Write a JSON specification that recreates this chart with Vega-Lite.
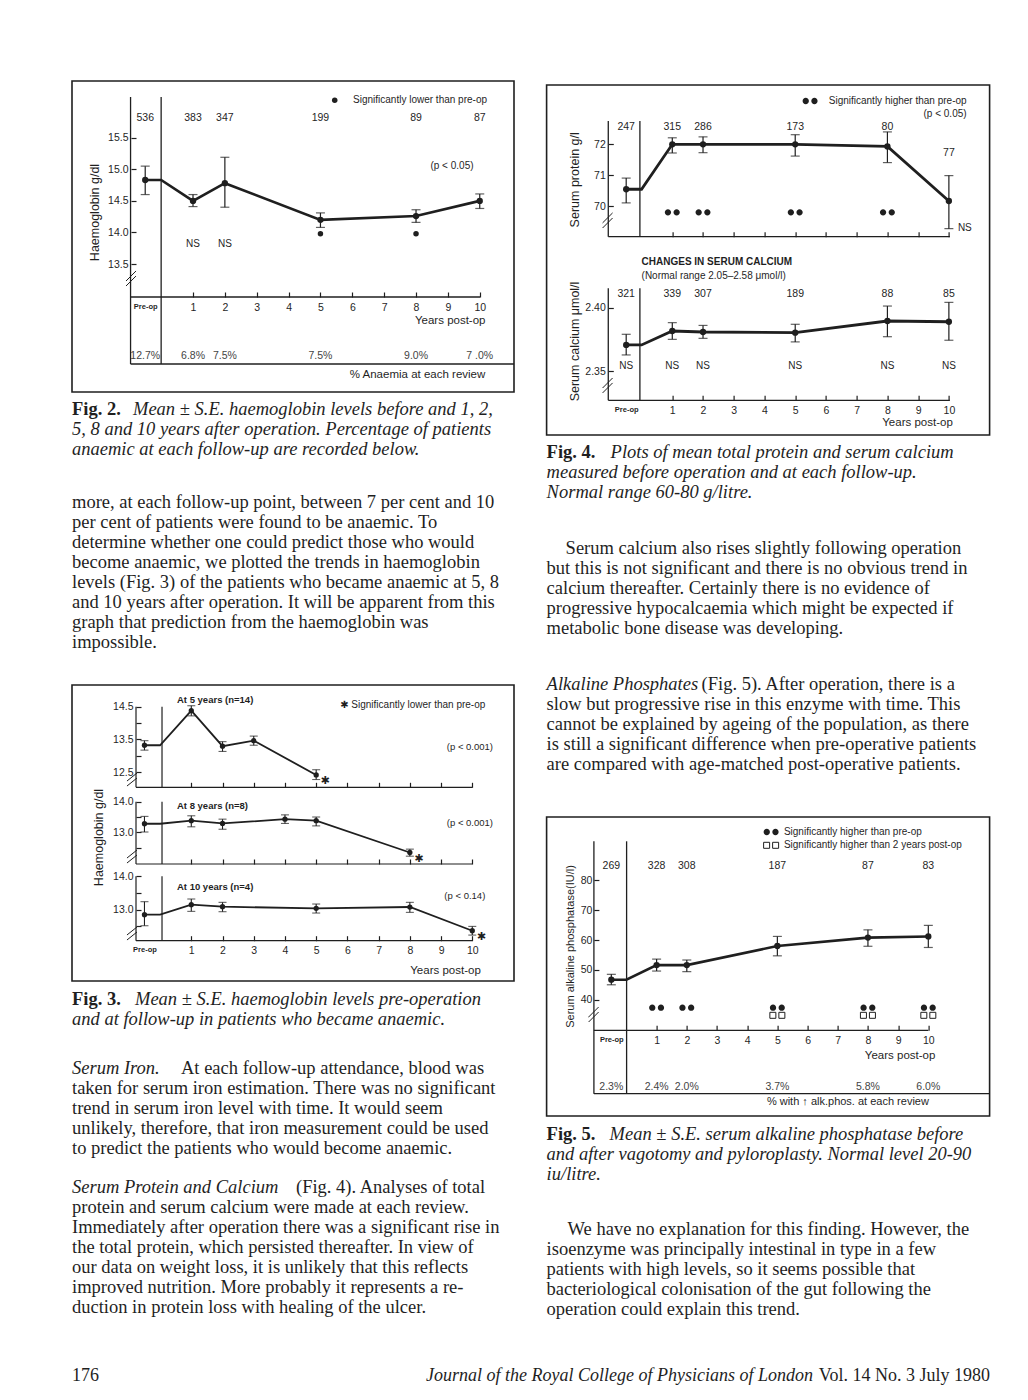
{
"$schema": "https://vega.github.io/schema/vega-lite/v6.json",
"background": "white",
"padding": {"left": 71, "top": 80, "right": 0, "bottom": 0},
"autosize": {"type": "pad"},
"spacing": 0,
"config": {
 "view": {"stroke": null},
 "axis": {"domain": false, "grid": false, "tickSize": -5, "tickWidth": 1.2, "tickColor": "#1f1f1f", "labelColor": "#1f1f1f", "labelFont": "Liberation Sans", "labelFontSize": 10.5, "labelPadding": 8, "labelFlush": false, "labelOverlap": false, "labelBound": false, "titleFont": "Liberation Sans", "titleFontWeight": "normal", "titleColor": "#1f1f1f", "titleFontSize": 12.5},
 "text": {"font": "Liberation Sans, DejaVu Sans", "color": "#1f1f1f"}
},
"vconcat": [
{"spacing": 29.6, "hconcat": [
{"spacing": 0, "bounds": "flush", "vconcat": [
 {
  "width": 442, "height": 311,
  "view": {"stroke": "#1f1f1f", "strokeWidth": 1.6},
  "resolve": {"axis": {"x": "independent", "y": "independent"}},
  "data": {"values": [
   {"year": -0.5, "kind": "visit", "mean": 14.83, "lo": 14.60, "hi": 15.05, "n": "536", "pct": "12.7%", "ns": false, "sig": false},
   {"year": 0, "kind": "join", "mean": 14.83},
   {"year": 1, "kind": "visit", "mean": 14.50, "lo": 14.41, "hi": 14.60, "n": "383", "pct": "6.8%", "ns": true, "sig": false},
   {"year": 2, "kind": "visit", "mean": 14.78, "lo": 14.40, "hi": 15.19, "n": "347", "pct": "7.5%", "ns": true, "sig": false},
   {"year": 5, "kind": "visit", "mean": 14.20, "lo": 14.08, "hi": 14.31, "n": "199", "pct": "7.5%", "ns": false, "sig": true},
   {"year": 8, "kind": "visit", "mean": 14.26, "lo": 14.16, "hi": 14.36, "n": "89", "pct": "9.0%", "ns": false, "sig": true},
   {"year": 10, "kind": "visit", "mean": 14.50, "lo": 14.38, "hi": 14.61, "n": "87", "pct": "7 .0%", "ns": false, "sig": false}
  ]},
  "layer": [
   {"transform": [{"filter": "datum.kind == 'visit'"}], "mark": {"type": "point", "filled": true, "size": 40, "color": "#1f1f1f", "opacity": 1},
    "encoding": {
     "x": {"field": "year", "type": "quantitative", "scale": {"domain": [-2.798, 11.075], "nice": false, "zero": false},
       "axis": {"orient": "bottom", "offset": -95, "values": [-0.5, 1, 2, 3, 4, 5, 6, 7, 8, 9, 10], "format": "d", "labelExpr": "datum.value < 0 ? 'Pre-op' : datum.label", "labelFontWeight": {"condition": {"test": "datum.value < 0", "value": "bold"}, "value": "normal"}, "labelFontSize": {"condition": {"test": "datum.value < 0", "value": 7.5}, "value": 10.5}, "tickOpacity": {"condition": {"test": "datum.value < 0", "value": 0}, "value": 1}, "labelPadding": 10, "title": "Years post-op", "titleX": 413, "titleY": 23, "titleAlign": "right", "titleBaseline": "middle", "titleFontSize": 11.5}},
     "y": {"field": "mean", "type": "quantitative", "scale": {"domain": [11.476, 16.397], "nice": false, "zero": false},
       "axis": {"orient": "left", "offset": -59, "values": [13.5, 14, 14.5, 15, 15.5], "format": ".1f", "labelPadding": 8, "title": "Haemoglobin g/dl", "titleX": -37, "titleY": 131, "titleAngle": 270, "titleAlign": "center", "titleBaseline": "middle", "titleFontSize": 12.5}}
    }},
   {"transform": [{"filter": "datum.kind == 'visit'"}], "mark": {"type": "errorbar", "ticks": true, "size": 9, "thickness": 1.2, "color": "#1f1f1f"}, "encoding": {"x": {"field": "year", "type": "quantitative", "scale": {"domain": [-2.798, 11.075], "nice": false, "zero": false}, "axis": null}, "y": {"field": "lo", "type": "quantitative", "scale": {"domain": [11.476, 16.397], "nice": false, "zero": false}, "axis": null}, "y2": {"field": "hi"}}},
   {"mark": {"type": "line", "color": "#1f1f1f", "strokeWidth": 2.6}, "encoding": {"x": {"field": "year", "type": "quantitative", "scale": {"domain": [-2.798, 11.075], "nice": false, "zero": false}, "axis": null}, "y": {"field": "mean", "type": "quantitative", "scale": {"domain": [11.476, 16.397], "nice": false, "zero": false}, "axis": null}}},
   {"transform": [{"filter": "datum.kind == 'visit'"}], "mark": {"type": "text", "fontSize": 10.5}, "encoding": {"x": {"field": "year", "type": "quantitative", "scale": {"domain": [-2.798, 11.075], "nice": false, "zero": false}, "axis": null}, "y": {"datum": 15.81, "type": "quantitative", "scale": {"domain": [11.476, 16.397], "nice": false, "zero": false}, "axis": null}, "text": {"field": "n"}}},
   {"transform": [{"filter": "datum.ns == true"}], "mark": {"type": "text", "text": "NS", "fontSize": 10}, "encoding": {"x": {"field": "year", "type": "quantitative", "scale": {"domain": [-2.798, 11.075], "nice": false, "zero": false}, "axis": null}, "y": {"datum": 13.82, "type": "quantitative", "scale": {"domain": [11.476, 16.397], "nice": false, "zero": false}, "axis": null}}},
   {"transform": [{"filter": "datum.sig == true"}], "mark": {"type": "point", "filled": true, "size": 30, "color": "#1f1f1f", "opacity": 1}, "encoding": {"x": {"field": "year", "type": "quantitative", "scale": {"domain": [-2.798, 11.075], "nice": false, "zero": false}, "axis": null}, "y": {"datum": 13.98, "type": "quantitative", "scale": {"domain": [11.476, 16.397], "nice": false, "zero": false}, "axis": null}}},
   {"transform": [{"filter": "datum.kind == 'visit'"}], "mark": {"type": "text", "fontSize": 10.5, "color": "#444444"}, "encoding": {"x": {"field": "year", "type": "quantitative", "scale": {"domain": [-2.798, 11.075], "nice": false, "zero": false}, "axis": null}, "y": {"datum": 12.04, "type": "quantitative", "scale": {"domain": [11.476, 16.397], "nice": false, "zero": false}, "axis": null}, "text": {"field": "pct"}}},
   {"data": {"values": [{}]}, "mark": {"type": "point", "filled": true, "size": 30, "color": "#1f1f1f", "opacity": 1}, "encoding": {"x": {"datum": 5.448, "type": "quantitative", "scale": {"domain": [-2.798, 11.075], "nice": false, "zero": false}, "axis": null}, "y": {"datum": 16.092, "type": "quantitative", "scale": {"domain": [11.476, 16.397], "nice": false, "zero": false}, "axis": null}}},
   {"data": {"values": [{}]}, "mark": {"type": "text", "text": "Significantly lower than pre-op", "align": "right", "fontSize": 10}, "encoding": {"x": {"datum": 10.228, "type": "quantitative", "scale": {"domain": [-2.798, 11.075], "nice": false, "zero": false}, "axis": null}, "y": {"datum": 16.092, "type": "quantitative", "scale": {"domain": [11.476, 16.397], "nice": false, "zero": false}, "axis": null}}},
   {"data": {"values": [{}]}, "mark": {"type": "text", "text": "(p < 0.05)", "align": "center", "fontSize": 10}, "encoding": {"x": {"datum": 9.129, "type": "quantitative", "scale": {"domain": [-2.798, 11.075], "nice": false, "zero": false}, "axis": null}, "y": {"datum": 15.047, "type": "quantitative", "scale": {"domain": [11.476, 16.397], "nice": false, "zero": false}, "axis": null}}},
   {"data": {"values": [{}]}, "mark": {"type": "text", "text": "% Anaemia at each review", "align": "right", "fontSize": 11.5}, "encoding": {"x": {"datum": 10.174, "type": "quantitative", "scale": {"domain": [-2.798, 11.075], "nice": false, "zero": false}, "axis": null}, "y": {"datum": 11.741, "type": "quantitative", "scale": {"domain": [11.476, 16.397], "nice": false, "zero": false}, "axis": null}}},
   {"data": {"values": [{}]}, "mark": {"type": "rule", "color": "#1f1f1f", "strokeWidth": 1.3}, "encoding": {"x": {"datum": -0.96, "type": "quantitative", "scale": {"domain": [-2.798, 11.075], "nice": false, "zero": false}, "axis": null}, "y": {"datum": 16.144, "type": "quantitative", "scale": {"domain": [11.476, 16.397], "nice": false, "zero": false}, "axis": null}, "y2": {"datum": 11.919}}},
   {"data": {"values": [{}]}, "mark": {"type": "rule", "color": "#1f1f1f", "strokeWidth": 1.3}, "encoding": {"x": {"datum": 0, "type": "quantitative", "scale": {"domain": [-2.798, 11.075], "nice": false, "zero": false}, "axis": null}, "y": {"datum": 16.144, "type": "quantitative", "scale": {"domain": [11.476, 16.397], "nice": false, "zero": false}, "axis": null}, "y2": {"datum": 11.919}}},
   {"data": {"values": [{}]}, "mark": {"type": "rule", "color": "#1f1f1f", "strokeWidth": 1.3}, "encoding": {"x": {"datum": -0.96, "type": "quantitative", "scale": {"domain": [-2.798, 11.075], "nice": false, "zero": false}, "axis": null}, "x2": {"datum": 10.01}, "y": {"datum": 12.979, "type": "quantitative", "scale": {"domain": [11.476, 16.397], "nice": false, "zero": false}, "axis": null}}},
   {"data": {"values": [{}]}, "mark": {"type": "rule", "color": "#1f1f1f", "strokeWidth": 1.3}, "encoding": {"x": {"datum": -0.96, "type": "quantitative", "scale": {"domain": [-2.798, 11.075], "nice": false, "zero": false}, "axis": null}, "x2": {"datum": 11.075}, "y": {"datum": 11.919, "type": "quantitative", "scale": {"domain": [11.476, 16.397], "nice": false, "zero": false}, "axis": null}}},
   {"data": {"values": [{}]}, "mark": {"type": "rule", "color": "#1f1f1f", "strokeWidth": 1}, "encoding": {"x": {"datum": -1.103, "type": "quantitative", "scale": {"domain": [-2.798, 11.075], "nice": false, "zero": false}, "axis": null}, "x2": {"datum": -0.789}, "y": {"datum": 13.153, "type": "quantitative", "scale": {"domain": [11.476, 16.397], "nice": false, "zero": false}, "axis": null}, "y2": {"datum": 13.311}}},
   {"data": {"values": [{}]}, "mark": {"type": "rule", "color": "#1f1f1f", "strokeWidth": 1}, "encoding": {"x": {"datum": -1.103, "type": "quantitative", "scale": {"domain": [-2.798, 11.075], "nice": false, "zero": false}, "axis": null}, "x2": {"datum": -0.789}, "y": {"datum": 13.232, "type": "quantitative", "scale": {"domain": [11.476, 16.397], "nice": false, "zero": false}, "axis": null}, "y2": {"datum": 13.391}}}
  ]
 },
 {
  "width": 442, "height": 74,
  "data": {"values": [
   {"line": 0, "part": "lead", "text": "Fig. 2."},
   {"line": 0, "part": "rest", "text": "Mean ± S.E. haemoglobin levels before and 1, 2,"},
   {"line": 1, "part": "body", "text": "5, 8 and 10 years after operation. Percentage of patients"},
   {"line": 2, "part": "body", "text": "anaemic at each follow-up are recorded below."}
  ]},
  "encoding": {"x": {"datum": 0, "type": "quantitative", "scale": {"domain": [0, 1], "nice": false, "zero": false}, "axis": null}, "y": {"field": "line", "type": "quantitative", "scale": {"domain": [-0.865, 2.835], "reverse": true, "nice": false, "zero": false}, "axis": null}, "text": {"field": "text"}},
  "layer": [
   {"transform": [{"filter": "datum.part == 'lead'"}], "mark": {"type": "text", "align": "left", "baseline": "middle", "font": "Liberation Serif", "fontSize": 18.5, "fontWeight": "bold", "color": "#1f1f1f"}},
   {"transform": [{"filter": "datum.part == 'rest'"}], "mark": {"type": "text", "align": "left", "baseline": "middle", "font": "Liberation Serif", "fontSize": 18.5, "fontStyle": "italic", "dx": 61, "color": "#1f1f1f"}},
   {"transform": [{"filter": "datum.part == 'body'"}], "mark": {"type": "text", "align": "left", "baseline": "middle", "font": "Liberation Serif", "fontSize": 18.5, "fontStyle": "italic", "color": "#1f1f1f"}}
  ]
 },
 {
  "width": 442, "height": 219,
  "data": {"values": [
   {"line": 0, "text": "more, at each follow-up point, between 7 per cent and 10"},
   {"line": 1, "text": "per cent of patients were found to be anaemic. To"},
   {"line": 2, "text": "determine whether one could predict those who would"},
   {"line": 3, "text": "become anaemic, we plotted the trends in haemoglobin"},
   {"line": 4, "text": "levels (Fig. 3) of the patients who became anaemic at 5, 8"},
   {"line": 5, "text": "and 10 years after operation. It will be apparent from this"},
   {"line": 6, "text": "graph that prediction from the haemoglobin was"},
   {"line": 7, "text": "impossible."}
  ]},
  "mark": {"type": "text", "align": "left", "baseline": "middle", "font": "Liberation Serif", "fontSize": 18.5, "color": "#1f1f1f"},
  "encoding": {"x": {"datum": 0, "type": "quantitative", "scale": {"domain": [0, 1], "nice": false, "zero": false}, "axis": null}, "y": {"field": "line", "type": "quantitative", "scale": {"domain": [-1.8, 9.15], "reverse": true, "nice": false, "zero": false}, "axis": null}, "text": {"field": "text"}}
 },
 {
  "width": 442, "height": 296,
  "view": {"stroke": "#1f1f1f", "strokeWidth": 1.6},
  "resolve": {"scale": {"y": "independent"}, "axis": {"x": "independent", "y": "independent"}},
  "layer": [
   {
    "resolve": {"axis": {"x": "independent", "y": "independent"}},
    "data": {"values": [
     {"year": -0.5, "kind": "visit", "mean": 13.32, "lo": 13.17, "hi": 13.46, "sig": false},
     {"year": 0, "kind": "join", "mean": 13.32},
     {"year": 1, "kind": "visit", "mean": 14.38, "lo": 14.22, "hi": 14.53, "sig": false},
     {"year": 2, "kind": "visit", "mean": 13.29, "lo": 13.13, "hi": 13.43, "sig": false},
     {"year": 3, "kind": "visit", "mean": 13.46, "lo": 13.32, "hi": 13.60, "sig": false},
     {"year": 5, "kind": "visit", "mean": 12.41, "lo": 12.27, "hi": 12.57, "sig": true}
    ]},
    "layer": [
     {"transform": [{"filter": "datum.kind == 'visit'"}], "mark": {"type": "point", "filled": true, "size": 28, "color": "#1f1f1f", "opacity": 1},
      "encoding": {
       "x": {"field": "year", "type": "quantitative", "scale": {"domain": [-2.821, 11.336], "nice": false, "zero": false}, "axis": {"orient": "bottom", "offset": -193.7, "values": [1, 2, 3, 4, 5, 6, 7, 8, 9, 10], "labels": false, "title": null}},
       "y": {"field": "mean", "type": "quantitative", "scale": {"domain": [6.099, 15.165], "nice": false, "zero": false}, "axis": {"orient": "left", "offset": -64, "values": [12.5, 13, 13.5, 14, 14.5], "labelExpr": "(datum.value * 2) % 2 == 1 ? format(datum.value, '.1f') : ''", "labelPadding": 8, "title": null}}
      }},
     {"transform": [{"filter": "datum.kind == 'visit'"}], "mark": {"type": "errorbar", "ticks": true, "size": 8, "thickness": 1.1, "color": "#1f1f1f"}, "encoding": {"x": {"field": "year", "type": "quantitative", "scale": {"domain": [-2.821, 11.336], "nice": false, "zero": false}, "axis": null}, "y": {"field": "lo", "type": "quantitative", "scale": {"domain": [6.099, 15.165], "nice": false, "zero": false}, "axis": null}, "y2": {"field": "hi"}}},
     {"mark": {"type": "line", "color": "#1f1f1f", "strokeWidth": 1.8}, "encoding": {"x": {"field": "year", "type": "quantitative", "scale": {"domain": [-2.821, 11.336], "nice": false, "zero": false}, "axis": null}, "y": {"field": "mean", "type": "quantitative", "scale": {"domain": [6.099, 15.165], "nice": false, "zero": false}, "axis": null}}},
     {"transform": [{"filter": "datum.sig == true"}], "mark": {"type": "text", "text": "✱", "font": "DejaVu Sans", "fontSize": 11, "dx": 9, "dy": 6}, "encoding": {"x": {"field": "year", "type": "quantitative", "scale": {"domain": [-2.821, 11.336], "nice": false, "zero": false}, "axis": null}, "y": {"field": "mean", "type": "quantitative", "scale": {"domain": [6.099, 15.165], "nice": false, "zero": false}, "axis": null}}},
     {"data": {"values": [{}]}, "mark": {"type": "text", "text": "At 5 years (n=14)", "align": "left", "fontSize": 9.5, "fontWeight": "bold"}, "encoding": {"x": {"datum": 0.542, "type": "quantitative", "scale": {"domain": [-2.821, 11.336], "nice": false, "zero": false}, "axis": null}, "y": {"datum": 14.714, "type": "quantitative", "scale": {"domain": [6.099, 15.165], "nice": false, "zero": false}, "axis": null}}},
     {"data": {"values": [{}]}, "mark": {"type": "text", "text": "✱ Significantly lower than pre-op", "align": "right", "fontSize": 10}, "encoding": {"x": {"datum": 10.417, "type": "quantitative", "scale": {"domain": [-2.821, 11.336], "nice": false, "zero": false}, "axis": null}, "y": {"datum": 14.552, "type": "quantitative", "scale": {"domain": [6.099, 15.165], "nice": false, "zero": false}, "axis": null}}},
     {"data": {"values": [{}]}, "mark": {"type": "text", "text": "(p < 0.001)", "align": "right", "fontSize": 9.5}, "encoding": {"x": {"datum": 10.664, "type": "quantitative", "scale": {"domain": [-2.821, 11.336], "nice": false, "zero": false}, "axis": null}, "y": {"datum": 13.275, "type": "quantitative", "scale": {"domain": [6.099, 15.165], "nice": false, "zero": false}, "axis": null}}},
     {"data": {"values": [{}]}, "mark": {"type": "rule", "color": "#1f1f1f", "strokeWidth": 1.2}, "encoding": {"x": {"datum": -0.771, "type": "quantitative", "scale": {"domain": [-2.821, 11.336], "nice": false, "zero": false}, "axis": null}, "y": {"datum": 14.5, "type": "quantitative", "scale": {"domain": [6.099, 15.165], "nice": false, "zero": false}, "axis": null}, "y2": {"datum": 12.031}}},
     {"data": {"values": [{}]}, "mark": {"type": "rule", "color": "#1f1f1f", "strokeWidth": 1.2}, "encoding": {"x": {"datum": 0.062, "type": "quantitative", "scale": {"domain": [-2.821, 11.336], "nice": false, "zero": false}, "axis": null}, "y": {"datum": 14.5, "type": "quantitative", "scale": {"domain": [6.099, 15.165], "nice": false, "zero": false}, "axis": null}, "y2": {"datum": 12.031}}},
     {"data": {"values": [{}]}, "mark": {"type": "rule", "color": "#1f1f1f", "strokeWidth": 1.2}, "encoding": {"x": {"datum": -0.771, "type": "quantitative", "scale": {"domain": [-2.821, 11.336], "nice": false, "zero": false}, "axis": null}, "x2": {"datum": 10.0}, "y": {"datum": 12.031, "type": "quantitative", "scale": {"domain": [6.099, 15.165], "nice": false, "zero": false}, "axis": null}}},
     {"data": {"values": [{}]}, "mark": {"type": "rule", "color": "#1f1f1f", "strokeWidth": 1}, "encoding": {"x": {"datum": -1.06, "type": "quantitative", "scale": {"domain": [-2.821, 11.336], "nice": false, "zero": false}, "axis": null}, "x2": {"datum": -0.739}, "y": {"datum": 12.071, "type": "quantitative", "scale": {"domain": [6.099, 15.165], "nice": false, "zero": false}, "axis": null}, "y2": {"datum": 12.316}}},
     {"data": {"values": [{}]}, "mark": {"type": "rule", "color": "#1f1f1f", "strokeWidth": 1}, "encoding": {"x": {"datum": -1.06, "type": "quantitative", "scale": {"domain": [-2.821, 11.336], "nice": false, "zero": false}, "axis": null}, "x2": {"datum": -0.739}, "y": {"datum": 12.224, "type": "quantitative", "scale": {"domain": [6.099, 15.165], "nice": false, "zero": false}, "axis": null}, "y2": {"datum": 12.469}}}
    ]
   },
   {
    "resolve": {"axis": {"x": "independent", "y": "independent"}},
    "data": {"values": [
     {"year": -0.5, "kind": "visit", "mean": 13.28, "lo": 13.01, "hi": 13.52, "sig": false},
     {"year": 0, "kind": "join", "mean": 13.28},
     {"year": 1, "kind": "visit", "mean": 13.38, "lo": 13.18, "hi": 13.54, "sig": false},
     {"year": 2, "kind": "visit", "mean": 13.29, "lo": 13.10, "hi": 13.43, "sig": false},
     {"year": 4, "kind": "visit", "mean": 13.43, "lo": 13.29, "hi": 13.57, "sig": false},
     {"year": 5, "kind": "visit", "mean": 13.38, "lo": 13.21, "hi": 13.50, "sig": false},
     {"year": 8, "kind": "visit", "mean": 12.34, "lo": 12.22, "hi": 12.45, "sig": true}
    ]},
    "layer": [
     {"transform": [{"filter": "datum.kind == 'visit'"}], "mark": {"type": "point", "filled": true, "size": 28, "color": "#1f1f1f", "opacity": 1},
      "encoding": {
       "x": {"field": "year", "type": "quantitative", "scale": {"domain": [-2.821, 11.336], "nice": false, "zero": false}, "axis": {"orient": "bottom", "offset": -117, "values": [1, 2, 3, 4, 5, 6, 7, 8, 9, 10], "labels": false, "title": null}},
       "y": {"field": "mean", "type": "quantitative", "scale": {"domain": [8.141, 17.814], "nice": false, "zero": false}, "axis": {"orient": "left", "offset": -64, "values": [12.5, 13, 13.5, 14], "labelExpr": "(datum.value * 2) % 2 == 0 ? format(datum.value, '.1f') : ''", "labelPadding": 8, "title": "Haemoglobin g/dl", "titleX": -37.3, "titleY": 152, "titleAngle": 270, "titleAlign": "center", "titleBaseline": "middle", "titleFontSize": 12.5}}
      }},
     {"transform": [{"filter": "datum.kind == 'visit'"}], "mark": {"type": "errorbar", "ticks": true, "size": 8, "thickness": 1.1, "color": "#1f1f1f"}, "encoding": {"x": {"field": "year", "type": "quantitative", "scale": {"domain": [-2.821, 11.336], "nice": false, "zero": false}, "axis": null}, "y": {"field": "lo", "type": "quantitative", "scale": {"domain": [8.141, 17.814], "nice": false, "zero": false}, "axis": null}, "y2": {"field": "hi"}}},
     {"mark": {"type": "line", "color": "#1f1f1f", "strokeWidth": 1.8}, "encoding": {"x": {"field": "year", "type": "quantitative", "scale": {"domain": [-2.821, 11.336], "nice": false, "zero": false}, "axis": null}, "y": {"field": "mean", "type": "quantitative", "scale": {"domain": [8.141, 17.814], "nice": false, "zero": false}, "axis": null}}},
     {"transform": [{"filter": "datum.sig == true"}], "mark": {"type": "text", "text": "✱", "font": "DejaVu Sans", "fontSize": 11, "dx": 9, "dy": 6}, "encoding": {"x": {"field": "year", "type": "quantitative", "scale": {"domain": [-2.821, 11.336], "nice": false, "zero": false}, "axis": null}, "y": {"field": "mean", "type": "quantitative", "scale": {"domain": [8.141, 17.814], "nice": false, "zero": false}, "axis": null}}},
     {"data": {"values": [{}]}, "mark": {"type": "text", "text": "At 8 years (n=8)", "align": "left", "fontSize": 9.5, "fontWeight": "bold"}, "encoding": {"x": {"datum": 0.542, "type": "quantitative", "scale": {"domain": [-2.821, 11.336], "nice": false, "zero": false}, "axis": null}, "y": {"datum": 13.869, "type": "quantitative", "scale": {"domain": [8.141, 17.814], "nice": false, "zero": false}, "axis": null}}},
     {"data": {"values": [{}]}, "mark": {"type": "text", "text": "(p < 0.001)", "align": "right", "fontSize": 9.5}, "encoding": {"x": {"datum": 10.664, "type": "quantitative", "scale": {"domain": [-2.821, 11.336], "nice": false, "zero": false}, "axis": null}, "y": {"datum": 13.294, "type": "quantitative", "scale": {"domain": [8.141, 17.814], "nice": false, "zero": false}, "axis": null}}},
     {"data": {"values": [{}]}, "mark": {"type": "rule", "color": "#1f1f1f", "strokeWidth": 1.2}, "encoding": {"x": {"datum": -0.771, "type": "quantitative", "scale": {"domain": [-2.821, 11.336], "nice": false, "zero": false}, "axis": null}, "y": {"datum": 14.0, "type": "quantitative", "scale": {"domain": [8.141, 17.814], "nice": false, "zero": false}, "axis": null}, "y2": {"datum": 11.964}}},
     {"data": {"values": [{}]}, "mark": {"type": "rule", "color": "#1f1f1f", "strokeWidth": 1.2}, "encoding": {"x": {"datum": 0.062, "type": "quantitative", "scale": {"domain": [-2.821, 11.336], "nice": false, "zero": false}, "axis": null}, "y": {"datum": 14.0, "type": "quantitative", "scale": {"domain": [8.141, 17.814], "nice": false, "zero": false}, "axis": null}, "y2": {"datum": 11.964}}},
     {"data": {"values": [{}]}, "mark": {"type": "rule", "color": "#1f1f1f", "strokeWidth": 1.2}, "encoding": {"x": {"datum": -0.771, "type": "quantitative", "scale": {"domain": [-2.821, 11.336], "nice": false, "zero": false}, "axis": null}, "x2": {"datum": 10.0}, "y": {"datum": 11.964, "type": "quantitative", "scale": {"domain": [8.141, 17.814], "nice": false, "zero": false}, "axis": null}}},
     {"data": {"values": [{}]}, "mark": {"type": "rule", "color": "#1f1f1f", "strokeWidth": 1}, "encoding": {"x": {"datum": -1.06, "type": "quantitative", "scale": {"domain": [-2.821, 11.336], "nice": false, "zero": false}, "axis": null}, "x2": {"datum": -0.739}, "y": {"datum": 11.997, "type": "quantitative", "scale": {"domain": [8.141, 17.814], "nice": false, "zero": false}, "axis": null}, "y2": {"datum": 12.258}}},
     {"data": {"values": [{}]}, "mark": {"type": "rule", "color": "#1f1f1f", "strokeWidth": 1}, "encoding": {"x": {"datum": -1.06, "type": "quantitative", "scale": {"domain": [-2.821, 11.336], "nice": false, "zero": false}, "axis": null}, "x2": {"datum": -0.739}, "y": {"datum": 12.16, "type": "quantitative", "scale": {"domain": [8.141, 17.814], "nice": false, "zero": false}, "axis": null}, "y2": {"datum": 12.422}}}
    ]
   },
   {
    "resolve": {"axis": {"x": "independent", "y": "independent"}},
    "data": {"values": [
     {"year": -0.5, "kind": "visit", "mean": 12.85, "lo": 12.52, "hi": 13.24, "sig": false},
     {"year": 0, "kind": "join", "mean": 12.85},
     {"year": 1, "kind": "visit", "mean": 13.15, "lo": 12.95, "hi": 13.32, "sig": false},
     {"year": 2, "kind": "visit", "mean": 13.09, "lo": 12.94, "hi": 13.22, "sig": false},
     {"year": 5, "kind": "visit", "mean": 13.04, "lo": 12.90, "hi": 13.17, "sig": false},
     {"year": 8, "kind": "visit", "mean": 13.08, "lo": 12.92, "hi": 13.22, "sig": false},
     {"year": 10, "kind": "visit", "mean": 12.37, "lo": 12.24, "hi": 12.50, "sig": true}
    ]},
    "layer": [
     {"transform": [{"filter": "datum.kind == 'visit'"}], "mark": {"type": "point", "filled": true, "size": 28, "color": "#1f1f1f", "opacity": 1},
      "encoding": {
       "x": {"field": "year", "type": "quantitative", "scale": {"domain": [-2.821, 11.336], "nice": false, "zero": false}, "axis": {"orient": "bottom", "offset": -40.3, "values": [-0.5, 1, 2, 3, 4, 5, 6, 7, 8, 9, 10], "format": "d", "labelExpr": "datum.value < 0 ? 'Pre-op' : datum.label", "labelFontWeight": {"condition": {"test": "datum.value < 0", "value": "bold"}, "value": "normal"}, "labelFontSize": {"condition": {"test": "datum.value < 0", "value": 7.5}, "value": 10.5}, "tickOpacity": {"condition": {"test": "datum.value < 0", "value": 0}, "value": 1}, "labelPadding": 10, "title": "Years post-op", "titleX": 408.3, "titleY": 30, "titleAlign": "right", "titleBaseline": "middle", "titleFontSize": 11.5}},
       "y": {"field": "mean", "type": "quantitative", "scale": {"domain": [10.865, 19.728], "nice": false, "zero": false}, "axis": {"orient": "left", "offset": -64, "values": [12.5, 13, 13.5, 14], "labelExpr": "(datum.value * 2) % 2 == 0 ? format(datum.value, '.1f') : ''", "labelPadding": 8, "title": null}}
      }},
     {"transform": [{"filter": "datum.kind == 'visit'"}], "mark": {"type": "errorbar", "ticks": true, "size": 8, "thickness": 1.1, "color": "#1f1f1f"}, "encoding": {"x": {"field": "year", "type": "quantitative", "scale": {"domain": [-2.821, 11.336], "nice": false, "zero": false}, "axis": null}, "y": {"field": "lo", "type": "quantitative", "scale": {"domain": [10.865, 19.728], "nice": false, "zero": false}, "axis": null}, "y2": {"field": "hi"}}},
     {"mark": {"type": "line", "color": "#1f1f1f", "strokeWidth": 1.8}, "encoding": {"x": {"field": "year", "type": "quantitative", "scale": {"domain": [-2.821, 11.336], "nice": false, "zero": false}, "axis": null}, "y": {"field": "mean", "type": "quantitative", "scale": {"domain": [10.865, 19.728], "nice": false, "zero": false}, "axis": null}}},
     {"transform": [{"filter": "datum.sig == true"}], "mark": {"type": "text", "text": "✱", "font": "DejaVu Sans", "fontSize": 11, "dx": 9, "dy": 6}, "encoding": {"x": {"field": "year", "type": "quantitative", "scale": {"domain": [-2.821, 11.336], "nice": false, "zero": false}, "axis": null}, "y": {"field": "mean", "type": "quantitative", "scale": {"domain": [10.865, 19.728], "nice": false, "zero": false}, "axis": null}}},
     {"data": {"values": [{}]}, "mark": {"type": "text", "text": "At 10 years (n=4)", "align": "left", "fontSize": 9.5, "fontWeight": "bold"}, "encoding": {"x": {"datum": 0.542, "type": "quantitative", "scale": {"domain": [-2.821, 11.336], "nice": false, "zero": false}, "axis": null}, "y": {"datum": 13.671, "type": "quantitative", "scale": {"domain": [10.865, 19.728], "nice": false, "zero": false}, "axis": null}}},
     {"data": {"values": [{}]}, "mark": {"type": "text", "text": "(p < 0.14)", "align": "right", "fontSize": 9.5}, "encoding": {"x": {"datum": 10.417, "type": "quantitative", "scale": {"domain": [-2.821, 11.336], "nice": false, "zero": false}, "axis": null}, "y": {"datum": 13.41, "type": "quantitative", "scale": {"domain": [10.865, 19.728], "nice": false, "zero": false}, "axis": null}}},
     {"data": {"values": [{}]}, "mark": {"type": "rule", "color": "#1f1f1f", "strokeWidth": 1.2}, "encoding": {"x": {"datum": -0.771, "type": "quantitative", "scale": {"domain": [-2.821, 11.336], "nice": false, "zero": false}, "axis": null}, "y": {"datum": 14.0, "type": "quantitative", "scale": {"domain": [10.865, 19.728], "nice": false, "zero": false}, "axis": null}, "y2": {"datum": 12.072}}},
     {"data": {"values": [{}]}, "mark": {"type": "rule", "color": "#1f1f1f", "strokeWidth": 1.2}, "encoding": {"x": {"datum": 0.062, "type": "quantitative", "scale": {"domain": [-2.821, 11.336], "nice": false, "zero": false}, "axis": null}, "y": {"datum": 14.0, "type": "quantitative", "scale": {"domain": [10.865, 19.728], "nice": false, "zero": false}, "axis": null}, "y2": {"datum": 12.072}}},
     {"data": {"values": [{}]}, "mark": {"type": "rule", "color": "#1f1f1f", "strokeWidth": 1.2}, "encoding": {"x": {"datum": -0.771, "type": "quantitative", "scale": {"domain": [-2.821, 11.336], "nice": false, "zero": false}, "axis": null}, "x2": {"datum": 10.0}, "y": {"datum": 12.072, "type": "quantitative", "scale": {"domain": [10.865, 19.728], "nice": false, "zero": false}, "axis": null}}},
     {"data": {"values": [{}]}, "mark": {"type": "rule", "color": "#1f1f1f", "strokeWidth": 1}, "encoding": {"x": {"datum": -1.06, "type": "quantitative", "scale": {"domain": [-2.821, 11.336], "nice": false, "zero": false}, "axis": null}, "x2": {"datum": -0.739}, "y": {"datum": 12.093, "type": "quantitative", "scale": {"domain": [10.865, 19.728], "nice": false, "zero": false}, "axis": null}, "y2": {"datum": 12.332}}},
     {"data": {"values": [{}]}, "mark": {"type": "rule", "color": "#1f1f1f", "strokeWidth": 1}, "encoding": {"x": {"datum": -1.06, "type": "quantitative", "scale": {"domain": [-2.821, 11.336], "nice": false, "zero": false}, "axis": null}, "x2": {"datum": -0.739}, "y": {"datum": 12.243, "type": "quantitative", "scale": {"domain": [10.865, 19.728], "nice": false, "zero": false}, "axis": null}, "y2": {"datum": 12.482}}}
    ]
   }
  ]
 },
 {
  "width": 442, "height": 60,
  "data": {"values": [
   {"line": 0, "part": "lead", "text": "Fig. 3."},
   {"line": 0, "part": "rest", "text": "Mean ± S.E. haemoglobin levels pre-operation"},
   {"line": 1, "part": "body", "text": "and at follow-up in patients who became anaemic."}
  ]},
  "encoding": {"x": {"datum": 0, "type": "quantitative", "scale": {"domain": [0, 1], "nice": false, "zero": false}, "axis": null}, "y": {"field": "line", "type": "quantitative", "scale": {"domain": [-0.915, 2.085], "reverse": true, "nice": false, "zero": false}, "axis": null}, "text": {"field": "text"}},
  "layer": [
   {"transform": [{"filter": "datum.part == 'lead'"}], "mark": {"type": "text", "align": "left", "baseline": "middle", "font": "Liberation Serif", "fontSize": 18.5, "fontWeight": "bold", "color": "#1f1f1f"}},
   {"transform": [{"filter": "datum.part == 'rest'"}], "mark": {"type": "text", "align": "left", "baseline": "middle", "font": "Liberation Serif", "fontSize": 18.5, "fontStyle": "italic", "dx": 63, "color": "#1f1f1f"}},
   {"transform": [{"filter": "datum.part == 'body'"}], "mark": {"type": "text", "align": "left", "baseline": "middle", "font": "Liberation Serif", "fontSize": 18.5, "fontStyle": "italic", "color": "#1f1f1f"}}
  ]
 },
 {
  "width": 442, "height": 125,
  "data": {"values": [
   {"line": 0, "part": "lead", "text": "Serum Iron."},
   {"line": 0, "part": "rest", "text": "At each follow-up attendance, blood was"},
   {"line": 1, "part": "body", "text": "taken for serum iron estimation. There was no significant"},
   {"line": 2, "part": "body", "text": "trend in serum iron level with time. It would seem"},
   {"line": 3, "part": "body", "text": "unlikely, therefore, that iron measurement could be used"},
   {"line": 4, "part": "body", "text": "to predict the patients who would become anaemic."}
  ]},
  "encoding": {"x": {"datum": 0, "type": "quantitative", "scale": {"domain": [0, 1], "nice": false, "zero": false}, "axis": null}, "y": {"field": "line", "type": "quantitative", "scale": {"domain": [-1.335, 4.915], "reverse": true, "nice": false, "zero": false}, "axis": null}, "text": {"field": "text"}},
  "layer": [
   {"transform": [{"filter": "datum.part == 'lead'"}], "mark": {"type": "text", "align": "left", "baseline": "middle", "font": "Liberation Serif", "fontSize": 18.5, "fontStyle": "italic", "color": "#1f1f1f"}},
   {"transform": [{"filter": "datum.part == 'rest'"}], "mark": {"type": "text", "align": "left", "baseline": "middle", "font": "Liberation Serif", "fontSize": 18.5, "dx": 109, "color": "#1f1f1f"}},
   {"transform": [{"filter": "datum.part == 'body'"}], "mark": {"type": "text", "align": "left", "baseline": "middle", "font": "Liberation Serif", "fontSize": 18.5, "color": "#1f1f1f"}}
  ]
 },
 {
  "width": 442, "height": 175,
  "data": {"values": [
   {"line": 0, "part": "lead", "text": "Serum Protein and Calcium"},
   {"line": 0, "part": "rest", "text": "(Fig. 4). Analyses of total"},
   {"line": 1, "part": "body", "text": "protein and serum calcium were made at each review."},
   {"line": 2, "part": "body", "text": "Immediately after operation there was a significant rise in"},
   {"line": 3, "part": "body", "text": "the total protein, which persisted thereafter. In view of"},
   {"line": 4, "part": "body", "text": "our data on weight loss, it is unlikely that this reflects"},
   {"line": 5, "part": "body", "text": "improved nutrition. More probably it represents a re-"},
   {"line": 6, "part": "body", "text": "duction in protein loss with healing of the ulcer."}
  ]},
  "encoding": {"x": {"datum": 0, "type": "quantitative", "scale": {"domain": [0, 1], "nice": false, "zero": false}, "axis": null}, "y": {"field": "line", "type": "quantitative", "scale": {"domain": [-1.05, 7.7], "reverse": true, "nice": false, "zero": false}, "axis": null}, "text": {"field": "text"}},
  "layer": [
   {"transform": [{"filter": "datum.part == 'lead'"}], "mark": {"type": "text", "align": "left", "baseline": "middle", "font": "Liberation Serif", "fontSize": 18.5, "fontStyle": "italic", "color": "#1f1f1f"}},
   {"transform": [{"filter": "datum.part == 'rest'"}], "mark": {"type": "text", "align": "left", "baseline": "middle", "font": "Liberation Serif", "fontSize": 18.5, "dx": 224, "color": "#1f1f1f"}},
   {"transform": [{"filter": "datum.part == 'body'"}], "mark": {"type": "text", "align": "left", "baseline": "middle", "font": "Liberation Serif", "fontSize": 18.5, "color": "#1f1f1f"}}
  ]
 }
]},
{"spacing": 0, "bounds": "flush", "vconcat": [
 {"width": 443, "height": 4, "data": {"values": []}, "mark": {"type": "text"}, "encoding": {"text": {"field": "text"}}},
 {
  "width": 443, "height": 350,
  "view": {"stroke": "#1f1f1f", "strokeWidth": 1.6},
  "resolve": {"scale": {"y": "independent"}, "axis": {"x": "independent", "y": "independent"}},
  "layer": [
   {
    "resolve": {"axis": {"x": "independent", "y": "independent"}},
    "data": {"values": [
     {"year": -0.5, "kind": "visit", "mean": 70.55, "lo": 70.11, "hi": 70.91, "n": "247", "ns": false, "sig": false},
     {"year": 0, "kind": "join", "mean": 70.55},
     {"year": 1, "kind": "visit", "mean": 72.0, "lo": 71.72, "hi": 72.21, "n": "315", "ns": false, "sig": true},
     {"year": 2, "kind": "visit", "mean": 72.0, "lo": 71.73, "hi": 72.24, "n": "286", "ns": false, "sig": true},
     {"year": 5, "kind": "visit", "mean": 72.0, "lo": 71.62, "hi": 72.31, "n": "173", "ns": false, "sig": true},
     {"year": 8, "kind": "visit", "mean": 71.93, "lo": 71.41, "hi": 72.40, "n": "80", "ns": false, "sig": true},
     {"year": 10, "kind": "visit", "mean": 70.17, "lo": 69.28, "hi": 70.99, "n": "77", "ns": true, "sig": false}
    ]},
    "layer": [
     {"transform": [{"filter": "datum.kind == 'visit'"}], "mark": {"type": "point", "filled": true, "size": 40, "color": "#1f1f1f", "opacity": 1},
      "encoding": {
       "x": {"field": "year", "type": "quantitative", "scale": {"domain": [-3.09, 11.325], "nice": false, "zero": false}, "axis": {"orient": "bottom", "offset": -198.3, "values": [1, 2, 3, 4, 5, 6, 7, 8, 9, 10], "labels": false, "title": null}},
       "y": {"field": "mean", "type": "quantitative", "scale": {"domain": [62.623, 73.913], "nice": false, "zero": false}, "axis": {"orient": "left", "offset": -61.7, "values": [70, 71, 72], "format": "d", "labelPadding": 8, "title": "Serum protein g/l", "titleX": -33.4, "titleY": 94.3, "titleAngle": 270, "titleAlign": "center", "titleBaseline": "middle", "titleFontSize": 12.5}}
      }},
     {"transform": [{"filter": "datum.kind == 'visit'"}], "mark": {"type": "errorbar", "ticks": true, "size": 9, "thickness": 1.2, "color": "#1f1f1f"}, "encoding": {"x": {"field": "year", "type": "quantitative", "scale": {"domain": [-3.09, 11.325], "nice": false, "zero": false}, "axis": null}, "y": {"field": "lo", "type": "quantitative", "scale": {"domain": [62.623, 73.913], "nice": false, "zero": false}, "axis": null}, "y2": {"field": "hi"}}},
     {"mark": {"type": "line", "color": "#1f1f1f", "strokeWidth": 2.8}, "encoding": {"x": {"field": "year", "type": "quantitative", "scale": {"domain": [-3.09, 11.325], "nice": false, "zero": false}, "axis": null}, "y": {"field": "mean", "type": "quantitative", "scale": {"domain": [62.623, 73.913], "nice": false, "zero": false}, "axis": null}}},
     {"transform": [{"filter": "datum.kind == 'visit' && datum.year < 10"}], "mark": {"type": "text", "fontSize": 10.5}, "encoding": {"x": {"field": "year", "type": "quantitative", "scale": {"domain": [-3.09, 11.325], "nice": false, "zero": false}, "axis": null}, "y": {"datum": 72.558, "type": "quantitative", "scale": {"domain": [62.623, 73.913], "nice": false, "zero": false}, "axis": null}, "text": {"field": "n"}}},
     {"transform": [{"filter": "datum.kind == 'visit' && datum.year == 10"}], "mark": {"type": "text", "fontSize": 10.5}, "encoding": {"x": {"field": "year", "type": "quantitative", "scale": {"domain": [-3.09, 11.325], "nice": false, "zero": false}, "axis": null}, "y": {"datum": 71.729, "type": "quantitative", "scale": {"domain": [62.623, 73.913], "nice": false, "zero": false}, "axis": null}, "text": {"field": "n"}}},
     {"transform": [{"filter": "datum.sig == true"}], "mark": {"type": "point", "shape": "M -1 0 A 0.42 0.42 0 1 0 -0.16 0 A 0.42 0.42 0 1 0 -1 0 Z M 0.16 0 A 0.42 0.42 0 1 0 1 0 A 0.42 0.42 0 1 0 0.16 0 Z", "filled": true, "size": 225, "color": "#1f1f1f", "opacity": 1}, "encoding": {"x": {"field": "year", "type": "quantitative", "scale": {"domain": [-3.09, 11.325], "nice": false, "zero": false}, "axis": null}, "y": {"datum": 69.806, "type": "quantitative", "scale": {"domain": [62.623, 73.913], "nice": false, "zero": false}, "axis": null}}},
     {"transform": [{"filter": "datum.ns == true"}], "mark": {"type": "text", "text": "NS", "fontSize": 10, "align": "left", "dx": 9}, "encoding": {"x": {"field": "year", "type": "quantitative", "scale": {"domain": [-3.09, 11.325], "nice": false, "zero": false}, "axis": null}, "y": {"datum": 69.31, "type": "quantitative", "scale": {"domain": [62.623, 73.913], "nice": false, "zero": false}, "axis": null}}},
     {"data": {"values": [{}]}, "mark": {"type": "point", "shape": "M -1 0 A 0.42 0.42 0 1 0 -0.16 0 A 0.42 0.42 0 1 0 -1 0 Z M 0.16 0 A 0.42 0.42 0 1 0 1 0 A 0.42 0.42 0 1 0 0.16 0 Z", "filled": true, "size": 225, "color": "#1f1f1f", "opacity": 1}, "encoding": {"x": {"datum": 5.484, "type": "quantitative", "scale": {"domain": [-3.09, 11.325], "nice": false, "zero": false}, "axis": null}, "y": {"datum": 73.397, "type": "quantitative", "scale": {"domain": [62.623, 73.913], "nice": false, "zero": false}, "axis": null}}},
     {"data": {"values": [{}]}, "mark": {"type": "text", "text": "Significantly higher than pre-op", "align": "right", "fontSize": 10}, "encoding": {"x": {"datum": 10.577, "type": "quantitative", "scale": {"domain": [-3.09, 11.325], "nice": false, "zero": false}, "axis": null}, "y": {"datum": 73.397, "type": "quantitative", "scale": {"domain": [62.623, 73.913], "nice": false, "zero": false}, "axis": null}}},
     {"data": {"values": [{}]}, "mark": {"type": "text", "text": "(p < 0.05)", "align": "right", "fontSize": 10}, "encoding": {"x": {"datum": 10.577, "type": "quantitative", "scale": {"domain": [-3.09, 11.325], "nice": false, "zero": false}, "axis": null}, "y": {"datum": 72.968, "type": "quantitative", "scale": {"domain": [62.623, 73.913], "nice": false, "zero": false}, "axis": null}}},
     {"data": {"values": [{}]}, "mark": {"type": "rule", "color": "#1f1f1f", "strokeWidth": 1.3}, "encoding": {"x": {"datum": -1.083, "type": "quantitative", "scale": {"domain": [-3.09, 11.325], "nice": false, "zero": false}, "axis": null}, "y": {"datum": 72.752, "type": "quantitative", "scale": {"domain": [62.623, 73.913], "nice": false, "zero": false}, "axis": null}, "y2": {"datum": 69.019}}},
     {"data": {"values": [{}]}, "mark": {"type": "rule", "color": "#1f1f1f", "strokeWidth": 1.3}, "encoding": {"x": {"datum": -0.054, "type": "quantitative", "scale": {"domain": [-3.09, 11.325], "nice": false, "zero": false}, "axis": null}, "y": {"datum": 72.752, "type": "quantitative", "scale": {"domain": [62.623, 73.913], "nice": false, "zero": false}, "axis": null}, "y2": {"datum": 69.019}}},
     {"data": {"values": [{}]}, "mark": {"type": "rule", "color": "#1f1f1f", "strokeWidth": 1.3}, "encoding": {"x": {"datum": -1.083, "type": "quantitative", "scale": {"domain": [-3.09, 11.325], "nice": false, "zero": false}, "axis": null}, "x2": {"datum": 10.03}, "y": {"datum": 69.019, "type": "quantitative", "scale": {"domain": [62.623, 73.913], "nice": false, "zero": false}, "axis": null}}},
     {"data": {"values": [{}]}, "mark": {"type": "rule", "color": "#1f1f1f", "strokeWidth": 1}, "encoding": {"x": {"datum": -1.268, "type": "quantitative", "scale": {"domain": [-3.09, 11.325], "nice": false, "zero": false}, "axis": null}, "x2": {"datum": -0.943}, "y": {"datum": 69.3, "type": "quantitative", "scale": {"domain": [62.623, 73.913], "nice": false, "zero": false}, "axis": null}, "y2": {"datum": 69.623}}},
     {"data": {"values": [{}]}, "mark": {"type": "rule", "color": "#1f1f1f", "strokeWidth": 1}, "encoding": {"x": {"datum": -1.268, "type": "quantitative", "scale": {"domain": [-3.09, 11.325], "nice": false, "zero": false}, "axis": null}, "x2": {"datum": -0.943}, "y": {"datum": 69.465, "type": "quantitative", "scale": {"domain": [62.623, 73.913], "nice": false, "zero": false}, "axis": null}, "y2": {"datum": 69.787}}}
    ]
   },
   {
    "resolve": {"axis": {"x": "independent", "y": "independent"}},
    "data": {"values": [
     {"year": -0.5, "kind": "visit", "mean": 2.3706, "lo": 2.3627, "hi": 2.379, "n": "321", "ns": true},
     {"year": 0, "kind": "join", "mean": 2.3706},
     {"year": 1, "kind": "visit", "mean": 2.3816, "lo": 2.375, "hi": 2.3882, "n": "339", "ns": true},
     {"year": 2, "kind": "visit", "mean": 2.3808, "lo": 2.3758, "hi": 2.386, "n": "307", "ns": true},
     {"year": 5, "kind": "visit", "mean": 2.3803, "lo": 2.373, "hi": 2.3869, "n": "189", "ns": true},
     {"year": 8, "kind": "visit", "mean": 2.3895, "lo": 2.3771, "hi": 2.4013, "n": "88", "ns": true},
     {"year": 10, "kind": "visit", "mean": 2.3889, "lo": 2.3743, "hi": 2.4042, "n": "85", "ns": true}
    ]},
    "layer": [
     {"transform": [{"filter": "datum.kind == 'visit'"}], "mark": {"type": "point", "filled": true, "size": 40, "color": "#1f1f1f", "opacity": 1},
      "encoding": {
       "x": {"field": "year", "type": "quantitative", "scale": {"domain": [-3.09, 11.325], "nice": false, "zero": false}, "axis": {"orient": "bottom", "offset": -34.7, "values": [-0.5, 1, 2, 3, 4, 5, 6, 7, 8, 9, 10], "format": "d", "labelExpr": "datum.value < 0 ? 'Pre-op' : datum.label", "labelFontWeight": {"condition": {"test": "datum.value < 0", "value": "bold"}, "value": "normal"}, "labelFontSize": {"condition": {"test": "datum.value < 0", "value": 7.5}, "value": 10.5}, "tickOpacity": {"condition": {"test": "datum.value < 0", "value": 0}, "value": 1}, "labelPadding": 10, "title": "Years post-op", "titleX": 405.7, "titleY": 22.4, "titleAlign": "right", "titleBaseline": "middle", "titleFontSize": 11.5}},
       "y": {"field": "mean", "type": "quantitative", "scale": {"domain": [2.2995, 2.5758], "nice": false, "zero": false}, "axis": {"orient": "left", "offset": -61.7, "values": [2.35, 2.4], "format": ".2f", "labelPadding": 8, "title": "Serum calcium μmol/l", "titleX": -33.4, "titleY": 256, "titleAngle": 270, "titleAlign": "center", "titleBaseline": "middle", "titleFontSize": 12.5}}
      }},
     {"transform": [{"filter": "datum.kind == 'visit'"}], "mark": {"type": "errorbar", "ticks": true, "size": 9, "thickness": 1.2, "color": "#1f1f1f"}, "encoding": {"x": {"field": "year", "type": "quantitative", "scale": {"domain": [-3.09, 11.325], "nice": false, "zero": false}, "axis": null}, "y": {"field": "lo", "type": "quantitative", "scale": {"domain": [2.2995, 2.5758], "nice": false, "zero": false}, "axis": null}, "y2": {"field": "hi"}}},
     {"mark": {"type": "line", "color": "#1f1f1f", "strokeWidth": 2.8}, "encoding": {"x": {"field": "year", "type": "quantitative", "scale": {"domain": [-3.09, 11.325], "nice": false, "zero": false}, "axis": null}, "y": {"field": "mean", "type": "quantitative", "scale": {"domain": [2.2995, 2.5758], "nice": false, "zero": false}, "axis": null}}},
     {"transform": [{"filter": "datum.kind == 'visit'"}], "mark": {"type": "text", "fontSize": 10.5}, "encoding": {"x": {"field": "year", "type": "quantitative", "scale": {"domain": [-3.09, 11.325], "nice": false, "zero": false}, "axis": null}, "y": {"datum": 2.4106, "type": "quantitative", "scale": {"domain": [2.2995, 2.5758], "nice": false, "zero": false}, "axis": null}, "text": {"field": "n"}}},
     {"transform": [{"filter": "datum.ns == true"}], "mark": {"type": "text", "text": "NS", "fontSize": 10}, "encoding": {"x": {"field": "year", "type": "quantitative", "scale": {"domain": [-3.09, 11.325], "nice": false, "zero": false}, "axis": null}, "y": {"datum": 2.354, "type": "quantitative", "scale": {"domain": [2.2995, 2.5758], "nice": false, "zero": false}, "axis": null}}},
     {"data": {"values": [{}]}, "mark": {"type": "text", "text": "CHANGES IN SERUM CALCIUM", "align": "left", "fontSize": 10, "fontWeight": "bold"}, "encoding": {"x": {"datum": 0.0, "type": "quantitative", "scale": {"domain": [-3.09, 11.325], "nice": false, "zero": false}, "axis": null}, "y": {"datum": 2.4363, "type": "quantitative", "scale": {"domain": [2.2995, 2.5758], "nice": false, "zero": false}, "axis": null}}},
     {"data": {"values": [{}]}, "mark": {"type": "text", "text": "(Normal range 2.05–2.58 μmol/l)", "align": "left", "fontSize": 10}, "encoding": {"x": {"datum": 0.0, "type": "quantitative", "scale": {"domain": [-3.09, 11.325], "nice": false, "zero": false}, "axis": null}, "y": {"datum": 2.4253, "type": "quantitative", "scale": {"domain": [2.2995, 2.5758], "nice": false, "zero": false}, "axis": null}}},
     {"data": {"values": [{}]}, "mark": {"type": "rule", "color": "#1f1f1f", "strokeWidth": 1.3}, "encoding": {"x": {"datum": -1.083, "type": "quantitative", "scale": {"domain": [-3.09, 11.325], "nice": false, "zero": false}, "axis": null}, "y": {"datum": 2.4153, "type": "quantitative", "scale": {"domain": [2.2995, 2.5758], "nice": false, "zero": false}, "axis": null}, "y2": {"datum": 2.3269}}},
     {"data": {"values": [{}]}, "mark": {"type": "rule", "color": "#1f1f1f", "strokeWidth": 1.3}, "encoding": {"x": {"datum": -0.054, "type": "quantitative", "scale": {"domain": [-3.09, 11.325], "nice": false, "zero": false}, "axis": null}, "y": {"datum": 2.4153, "type": "quantitative", "scale": {"domain": [2.2995, 2.5758], "nice": false, "zero": false}, "axis": null}, "y2": {"datum": 2.3269}}},
     {"data": {"values": [{}]}, "mark": {"type": "rule", "color": "#1f1f1f", "strokeWidth": 1.3}, "encoding": {"x": {"datum": -1.083, "type": "quantitative", "scale": {"domain": [-3.09, 11.325], "nice": false, "zero": false}, "axis": null}, "x2": {"datum": 10.03}, "y": {"datum": 2.3269, "type": "quantitative", "scale": {"domain": [2.2995, 2.5758], "nice": false, "zero": false}, "axis": null}}},
     {"data": {"values": [{}]}, "mark": {"type": "rule", "color": "#1f1f1f", "strokeWidth": 1}, "encoding": {"x": {"datum": -1.268, "type": "quantitative", "scale": {"domain": [-3.09, 11.325], "nice": false, "zero": false}, "axis": null}, "x2": {"datum": -0.943}, "y": {"datum": 2.3327, "type": "quantitative", "scale": {"domain": [2.2995, 2.5758], "nice": false, "zero": false}, "axis": null}, "y2": {"datum": 2.3406}}},
     {"data": {"values": [{}]}, "mark": {"type": "rule", "color": "#1f1f1f", "strokeWidth": 1}, "encoding": {"x": {"datum": -1.268, "type": "quantitative", "scale": {"domain": [-3.09, 11.325], "nice": false, "zero": false}, "axis": null}, "x2": {"datum": -0.943}, "y": {"datum": 2.3366, "type": "quantitative", "scale": {"domain": [2.2995, 2.5758], "nice": false, "zero": false}, "axis": null}, "y2": {"datum": 2.3445}}}
    ]
   }
  ]
 },
 {
  "width": 443, "height": 76,
  "data": {"values": [
   {"line": 0, "part": "lead", "text": "Fig. 4."},
   {"line": 0, "part": "rest", "text": "Plots of mean total protein and serum calcium"},
   {"line": 1, "part": "body", "text": "measured before operation and at each follow-up."},
   {"line": 2, "part": "body", "text": "Normal range 60-80 g/litre."}
  ]},
  "encoding": {"x": {"datum": 0, "type": "quantitative", "scale": {"domain": [0, 1], "nice": false, "zero": false}, "axis": null}, "y": {"field": "line", "type": "quantitative", "scale": {"domain": [-0.835, 2.965], "reverse": true, "nice": false, "zero": false}, "axis": null}, "text": {"field": "text"}},
  "layer": [
   {"transform": [{"filter": "datum.part == 'lead'"}], "mark": {"type": "text", "align": "left", "baseline": "middle", "font": "Liberation Serif", "fontSize": 18.5, "fontWeight": "bold", "color": "#1f1f1f"}},
   {"transform": [{"filter": "datum.part == 'rest'"}], "mark": {"type": "text", "align": "left", "baseline": "middle", "font": "Liberation Serif", "fontSize": 18.5, "fontStyle": "italic", "dx": 64, "color": "#1f1f1f"}},
   {"transform": [{"filter": "datum.part == 'body'"}], "mark": {"type": "text", "align": "left", "baseline": "middle", "font": "Liberation Serif", "fontSize": 18.5, "fontStyle": "italic", "color": "#1f1f1f"}}
  ]
 },
 {
  "width": 443, "height": 150,
  "data": {"values": [
   {"line": 0, "part": "rest", "text": "Serum calcium also rises slightly following operation"},
   {"line": 1, "part": "body", "text": "but this is not significant and there is no obvious trend in"},
   {"line": 2, "part": "body", "text": "calcium thereafter. Certainly there is no evidence of"},
   {"line": 3, "part": "body", "text": "progressive hypocalcaemia which might be expected if"},
   {"line": 4, "part": "body", "text": "metabolic bone disease was developing."}
  ]},
  "encoding": {"x": {"datum": 0, "type": "quantitative", "scale": {"domain": [0, 1], "nice": false, "zero": false}, "axis": null}, "y": {"field": "line", "type": "quantitative", "scale": {"domain": [-1.865, 5.635], "reverse": true, "nice": false, "zero": false}, "axis": null}, "text": {"field": "text"}},
  "layer": [
   {"transform": [{"filter": "datum.part == 'rest'"}], "mark": {"type": "text", "align": "left", "baseline": "middle", "font": "Liberation Serif", "fontSize": 18.5, "dx": 19, "color": "#1f1f1f"}},
   {"transform": [{"filter": "datum.part == 'body'"}], "mark": {"type": "text", "align": "left", "baseline": "middle", "font": "Liberation Serif", "fontSize": 18.5, "color": "#1f1f1f"}}
  ]
 },
 {
  "width": 443, "height": 156,
  "data": {"values": [
   {"line": 0, "part": "lead", "text": "Alkaline Phosphates"},
   {"line": 0, "part": "rest", "text": "(Fig. 5). After operation, there is a"},
   {"line": 1, "part": "body", "text": "slow but progressive rise in this enzyme with time. This"},
   {"line": 2, "part": "body", "text": "cannot be explained by ageing of the population, as there"},
   {"line": 3, "part": "body", "text": "is still a significant difference when pre-operative patients"},
   {"line": 4, "part": "body", "text": "are compared with age-matched post-operative patients."}
  ]},
  "encoding": {"x": {"datum": 0, "type": "quantitative", "scale": {"domain": [0, 1], "nice": false, "zero": false}, "axis": null}, "y": {"field": "line", "type": "quantitative", "scale": {"domain": [-1.165, 6.635], "reverse": true, "nice": false, "zero": false}, "axis": null}, "text": {"field": "text"}},
  "layer": [
   {"transform": [{"filter": "datum.part == 'lead'"}], "mark": {"type": "text", "align": "left", "baseline": "middle", "font": "Liberation Serif", "fontSize": 18.5, "fontStyle": "italic", "color": "#1f1f1f"}},
   {"transform": [{"filter": "datum.part == 'rest'"}], "mark": {"type": "text", "align": "left", "baseline": "middle", "font": "Liberation Serif", "fontSize": 18.5, "dx": 155, "color": "#1f1f1f"}},
   {"transform": [{"filter": "datum.part == 'body'"}], "mark": {"type": "text", "align": "left", "baseline": "middle", "font": "Liberation Serif", "fontSize": 18.5, "color": "#1f1f1f"}}
  ]
 },
 {
  "width": 443, "height": 299,
  "view": {"stroke": "#1f1f1f", "strokeWidth": 1.6},
  "resolve": {"axis": {"x": "independent", "y": "independent"}},
  "data": {"values": [
   {"year": -0.5, "kind": "visit", "mean": 46.7, "lo": 45.0, "hi": 48.5, "n": "269", "pct": "2.3%", "sig": false, "sig2": false},
   {"year": 0, "kind": "join", "mean": 46.7},
   {"year": 1, "kind": "visit", "mean": 51.6, "lo": 49.6, "hi": 53.6, "n": "328", "pct": "2.4%", "sig": true, "sig2": false},
   {"year": 2, "kind": "visit", "mean": 51.6, "lo": 49.4, "hi": 53.3, "n": "308", "pct": "2.0%", "sig": true, "sig2": false},
   {"year": 5, "kind": "visit", "mean": 58.0, "lo": 54.7, "hi": 61.2, "n": "187", "pct": "3.7%", "sig": true, "sig2": true},
   {"year": 8, "kind": "visit", "mean": 60.8, "lo": 57.9, "hi": 63.4, "n": "87", "pct": "5.8%", "sig": true, "sig2": true},
   {"year": 10, "kind": "visit", "mean": 61.2, "lo": 57.5, "hi": 64.9, "n": "83", "pct": "6.0%", "sig": true, "sig2": true}
  ]},
  "layer": [
   {"transform": [{"filter": "datum.kind == 'visit'"}], "mark": {"type": "point", "filled": true, "size": 40, "color": "#1f1f1f", "opacity": 1},
    "encoding": {
     "x": {"field": "year", "type": "quantitative", "scale": {"domain": [-2.644, 12.03], "nice": false, "zero": false}, "axis": {"orient": "bottom", "offset": -85.7, "values": [-0.5, 1, 2, 3, 4, 5, 6, 7, 8, 9, 10], "format": "d", "labelExpr": "datum.value < 0 ? 'Pre-op' : datum.label", "labelFontWeight": {"condition": {"test": "datum.value < 0", "value": "bold"}, "value": "normal"}, "labelFontSize": {"condition": {"test": "datum.value < 0", "value": 7.5}, "value": 10.5}, "tickOpacity": {"condition": {"test": "datum.value < 0", "value": 0}, "value": 1}, "labelPadding": 10, "title": "Years post-op", "titleX": 388.3, "titleY": 25, "titleAlign": "right", "titleBaseline": "middle", "titleFontSize": 11.5}},
     "y": {"field": "mean", "type": "quantitative", "scale": {"domain": [1.04, 101.21], "nice": false, "zero": false}, "axis": {"orient": "left", "offset": -47.3, "values": [40, 50, 60, 70, 80], "format": "d", "labelPadding": 7, "title": "Serum alkaline phosphatase(IU/l)", "titleX": -23, "titleY": 129, "titleAngle": 270, "titleAlign": "center", "titleBaseline": "middle", "titleFontSize": 11}}
    }},
   {"transform": [{"filter": "datum.kind == 'visit'"}], "mark": {"type": "errorbar", "ticks": true, "size": 9, "thickness": 1.2, "color": "#1f1f1f"}, "encoding": {"x": {"field": "year", "type": "quantitative", "scale": {"domain": [-2.644, 12.03], "nice": false, "zero": false}, "axis": null}, "y": {"field": "lo", "type": "quantitative", "scale": {"domain": [1.04, 101.21], "nice": false, "zero": false}, "axis": null}, "y2": {"field": "hi"}}},
   {"mark": {"type": "line", "color": "#1f1f1f", "strokeWidth": 2.6}, "encoding": {"x": {"field": "year", "type": "quantitative", "scale": {"domain": [-2.644, 12.03], "nice": false, "zero": false}, "axis": null}, "y": {"field": "mean", "type": "quantitative", "scale": {"domain": [1.04, 101.21], "nice": false, "zero": false}, "axis": null}}},
   {"transform": [{"filter": "datum.kind == 'visit'"}], "mark": {"type": "text", "fontSize": 10.5}, "encoding": {"x": {"field": "year", "type": "quantitative", "scale": {"domain": [-2.644, 12.03], "nice": false, "zero": false}, "axis": null}, "y": {"datum": 84.79, "type": "quantitative", "scale": {"domain": [1.04, 101.21], "nice": false, "zero": false}, "axis": null}, "text": {"field": "n"}}},
   {"transform": [{"filter": "datum.sig == true"}], "mark": {"type": "point", "shape": "M -1 0 A 0.42 0.42 0 1 0 -0.16 0 A 0.42 0.42 0 1 0 -1 0 Z M 0.16 0 A 0.42 0.42 0 1 0 1 0 A 0.42 0.42 0 1 0 0.16 0 Z", "filled": true, "size": 225, "color": "#1f1f1f", "opacity": 1}, "encoding": {"x": {"field": "year", "type": "quantitative", "scale": {"domain": [-2.644, 12.03], "nice": false, "zero": false}, "axis": null}, "y": {"datum": 37.32, "type": "quantitative", "scale": {"domain": [1.04, 101.21], "nice": false, "zero": false}, "axis": null}}},
   {"transform": [{"filter": "datum.sig2 == true"}], "mark": {"type": "point", "shape": "M -1 -0.4 H -0.2 V 0.4 H -1 Z M 0.2 -0.4 H 1 V 0.4 H 0.2 Z", "filled": false, "size": 225, "strokeWidth": 1, "color": "#1f1f1f", "opacity": 1}, "encoding": {"x": {"field": "year", "type": "quantitative", "scale": {"domain": [-2.644, 12.03], "nice": false, "zero": false}, "axis": null}, "y": {"datum": 34.77, "type": "quantitative", "scale": {"domain": [1.04, 101.21], "nice": false, "zero": false}, "axis": null}}},
   {"transform": [{"filter": "datum.kind == 'visit'"}], "mark": {"type": "text", "fontSize": 10.5, "color": "#444444"}, "encoding": {"x": {"field": "year", "type": "quantitative", "scale": {"domain": [-2.644, 12.03], "nice": false, "zero": false}, "axis": null}, "y": {"datum": 10.75, "type": "quantitative", "scale": {"domain": [1.04, 101.21], "nice": false, "zero": false}, "axis": null}, "text": {"field": "pct"}}},
   {"data": {"values": [{}]}, "mark": {"type": "point", "shape": "M -1 0 A 0.42 0.42 0 1 0 -0.16 0 A 0.42 0.42 0 1 0 -1 0 Z M 0.16 0 A 0.42 0.42 0 1 0 1 0 A 0.42 0.42 0 1 0 0.16 0 Z", "filled": true, "size": 225, "color": "#1f1f1f", "opacity": 1}, "encoding": {"x": {"datum": 4.793, "type": "quantitative", "scale": {"domain": [-2.644, 12.03], "nice": false, "zero": false}, "axis": null}, "y": {"datum": 96.18, "type": "quantitative", "scale": {"domain": [1.04, 101.21], "nice": false, "zero": false}, "axis": null}}},
   {"data": {"values": [{}]}, "mark": {"type": "point", "shape": "M -1 -0.4 H -0.2 V 0.4 H -1 Z M 0.2 -0.4 H 1 V 0.4 H 0.2 Z", "filled": false, "size": 225, "strokeWidth": 1, "color": "#1f1f1f", "opacity": 1}, "encoding": {"x": {"datum": 4.793, "type": "quantitative", "scale": {"domain": [-2.644, 12.03], "nice": false, "zero": false}, "axis": null}, "y": {"datum": 91.73, "type": "quantitative", "scale": {"domain": [1.04, 101.21], "nice": false, "zero": false}, "axis": null}}},
   {"data": {"values": [{}]}, "mark": {"type": "text", "text": "Significantly higher than pre-op", "align": "left", "fontSize": 10}, "encoding": {"x": {"datum": 5.217, "type": "quantitative", "scale": {"domain": [-2.644, 12.03], "nice": false, "zero": false}, "axis": null}, "y": {"datum": 96.18, "type": "quantitative", "scale": {"domain": [1.04, 101.21], "nice": false, "zero": false}, "axis": null}}},
   {"data": {"values": [{}]}, "mark": {"type": "text", "text": "Significantly higher than 2 years post-op", "align": "left", "fontSize": 10}, "encoding": {"x": {"datum": 5.217, "type": "quantitative", "scale": {"domain": [-2.644, 12.03], "nice": false, "zero": false}, "axis": null}, "y": {"datum": 91.73, "type": "quantitative", "scale": {"domain": [1.04, 101.21], "nice": false, "zero": false}, "axis": null}}},
   {"data": {"values": [{}]}, "mark": {"type": "text", "text": "% with ↑ alk.phos. at each review", "align": "right", "fontSize": 11}, "encoding": {"x": {"datum": 10.02, "type": "quantitative", "scale": {"domain": [-2.644, 12.03], "nice": false, "zero": false}, "axis": null}, "y": {"datum": 5.73, "type": "quantitative", "scale": {"domain": [1.04, 101.21], "nice": false, "zero": false}, "axis": null}}},
   {"data": {"values": [{}]}, "mark": {"type": "rule", "color": "#1f1f1f", "strokeWidth": 1.3}, "encoding": {"x": {"datum": -1.077, "type": "quantitative", "scale": {"domain": [-2.644, 12.03], "nice": false, "zero": false}, "axis": null}, "y": {"datum": 93.07, "type": "quantitative", "scale": {"domain": [1.04, 101.21], "nice": false, "zero": false}, "axis": null}, "y2": {"datum": 8.51}}},
   {"data": {"values": [{}]}, "mark": {"type": "rule", "color": "#1f1f1f", "strokeWidth": 1.3}, "encoding": {"x": {"datum": 0.006, "type": "quantitative", "scale": {"domain": [-2.644, 12.03], "nice": false, "zero": false}, "axis": null}, "y": {"datum": 93.07, "type": "quantitative", "scale": {"domain": [1.04, 101.21], "nice": false, "zero": false}, "axis": null}, "y2": {"datum": 8.51}}},
   {"data": {"values": [{}]}, "mark": {"type": "rule", "color": "#1f1f1f", "strokeWidth": 1.3}, "encoding": {"x": {"datum": -1.077, "type": "quantitative", "scale": {"domain": [-2.644, 12.03], "nice": false, "zero": false}, "axis": null}, "x2": {"datum": 10.0}, "y": {"datum": 29.75, "type": "quantitative", "scale": {"domain": [1.04, 101.21], "nice": false, "zero": false}, "axis": null}}},
   {"data": {"values": [{}]}, "mark": {"type": "rule", "color": "#1f1f1f", "strokeWidth": 1.3}, "encoding": {"x": {"datum": -1.077, "type": "quantitative", "scale": {"domain": [-2.644, 12.03], "nice": false, "zero": false}, "axis": null}, "x2": {"datum": 12.03}, "y": {"datum": 8.51, "type": "quantitative", "scale": {"domain": [1.04, 101.21], "nice": false, "zero": false}, "axis": null}}},
   {"data": {"values": [{}]}, "mark": {"type": "rule", "color": "#1f1f1f", "strokeWidth": 1}, "encoding": {"x": {"datum": -1.252, "type": "quantitative", "scale": {"domain": [-2.644, 12.03], "nice": false, "zero": false}, "axis": null}, "x2": {"datum": -0.921}, "y": {"datum": 32.53, "type": "quantitative", "scale": {"domain": [1.04, 101.21], "nice": false, "zero": false}, "axis": null}, "y2": {"datum": 35.88}}},
   {"data": {"values": [{}]}, "mark": {"type": "rule", "color": "#1f1f1f", "strokeWidth": 1}, "encoding": {"x": {"datum": -1.252, "type": "quantitative", "scale": {"domain": [-2.644, 12.03], "nice": false, "zero": false}, "axis": null}, "x2": {"datum": -0.921}, "y": {"datum": 34.2, "type": "quantitative", "scale": {"domain": [1.04, 101.21], "nice": false, "zero": false}, "axis": null}, "y2": {"datum": 37.55}}}
  ]
 },
 {
  "width": 443, "height": 75,
  "data": {"values": [
   {"line": 0, "part": "lead", "text": "Fig. 5."},
   {"line": 0, "part": "rest", "text": "Mean ± S.E. serum alkaline phosphatase before"},
   {"line": 1, "part": "body", "text": "and after vagotomy and pyloroplasty. Normal level 20-90"},
   {"line": 2, "part": "body", "text": "iu/litre."}
  ]},
  "encoding": {"x": {"datum": 0, "type": "quantitative", "scale": {"domain": [0, 1], "nice": false, "zero": false}, "axis": null}, "y": {"field": "line", "type": "quantitative", "scale": {"domain": [-0.915, 2.835], "reverse": true, "nice": false, "zero": false}, "axis": null}, "text": {"field": "text"}},
  "layer": [
   {"transform": [{"filter": "datum.part == 'lead'"}], "mark": {"type": "text", "align": "left", "baseline": "middle", "font": "Liberation Serif", "fontSize": 18.5, "fontWeight": "bold", "color": "#1f1f1f"}},
   {"transform": [{"filter": "datum.part == 'rest'"}], "mark": {"type": "text", "align": "left", "baseline": "middle", "font": "Liberation Serif", "fontSize": 18.5, "fontStyle": "italic", "dx": 63, "color": "#1f1f1f"}},
   {"transform": [{"filter": "datum.part == 'body'"}], "mark": {"type": "text", "align": "left", "baseline": "middle", "font": "Liberation Serif", "fontSize": 18.5, "fontStyle": "italic", "color": "#1f1f1f"}}
  ]
 },
 {
  "width": 443, "height": 150,
  "data": {"values": [
   {"line": 0, "part": "rest", "text": "We have no explanation for this finding. However, the"},
   {"line": 1, "part": "body", "text": "isoenzyme was principally intestinal in type in a few"},
   {"line": 2, "part": "body", "text": "patients with high levels, so it seems possible that"},
   {"line": 3, "part": "body", "text": "bacteriological colonisation of the gut following the"},
   {"line": 4, "part": "body", "text": "operation could explain this trend."}
  ]},
  "encoding": {"x": {"datum": 0, "type": "quantitative", "scale": {"domain": [0, 1], "nice": false, "zero": false}, "axis": null}, "y": {"field": "line", "type": "quantitative", "scale": {"domain": [-1.915, 5.585], "reverse": true, "nice": false, "zero": false}, "axis": null}, "text": {"field": "text"}},
  "layer": [
   {"transform": [{"filter": "datum.part == 'rest'"}], "mark": {"type": "text", "align": "left", "baseline": "middle", "font": "Liberation Serif", "fontSize": 18.5, "dx": 21, "color": "#1f1f1f"}},
   {"transform": [{"filter": "datum.part == 'body'"}], "mark": {"type": "text", "align": "left", "baseline": "middle", "font": "Liberation Serif", "fontSize": 18.5, "color": "#1f1f1f"}}
  ]
 }
]}
]},
{
 "width": 918, "height": 60,
 "data": {"values": [
  {"line": 0, "part": "page", "text": "176"},
  {"line": 0, "part": "journal", "text": "Journal of the Royal College of Physicians of London"},
  {"line": 0, "part": "issue", "text": "Vol. 14 No. 3 July 1980"}
 ]},
 "encoding": {"y": {"field": "line", "type": "quantitative", "scale": {"domain": [-1.75, 1.25], "reverse": true, "nice": false, "zero": false}, "axis": null}, "text": {"field": "text"}},
 "layer": [
  {"transform": [{"filter": "datum.part == 'page'"}], "mark": {"type": "text", "align": "left", "baseline": "middle", "font": "Liberation Serif", "fontSize": 18, "color": "#1f1f1f"}, "encoding": {"x": {"datum": 0, "type": "quantitative", "scale": {"domain": [0, 1], "nice": false, "zero": false}, "axis": null}}},
  {"transform": [{"filter": "datum.part == 'journal'"}], "mark": {"type": "text", "align": "right", "baseline": "middle", "font": "Liberation Serif", "fontSize": 18, "fontStyle": "italic", "dx": -177, "color": "#1f1f1f"}, "encoding": {"x": {"datum": 1, "type": "quantitative", "scale": {"domain": [0, 1], "nice": false, "zero": false}, "axis": null}}},
  {"transform": [{"filter": "datum.part == 'issue'"}], "mark": {"type": "text", "align": "right", "baseline": "middle", "font": "Liberation Serif", "fontSize": 18, "color": "#1f1f1f"}, "encoding": {"x": {"datum": 1, "type": "quantitative", "scale": {"domain": [0, 1], "nice": false, "zero": false}, "axis": null}}}
 ]
}
]
}
